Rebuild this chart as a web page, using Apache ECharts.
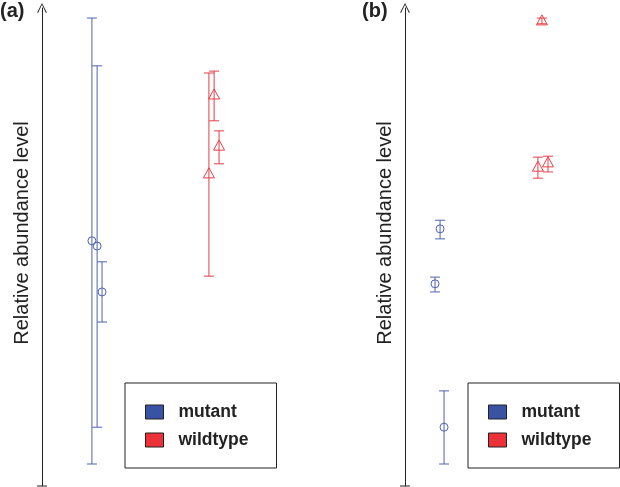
<!DOCTYPE html>
<html><head><meta charset="utf-8">
<script src="https://cdn.jsdelivr.net/npm/echarts@6/dist/echarts.min.js"></script>
<style>html,body{margin:0;padding:0;background:#fff}#c{width:620px;height:487px}</style>
</head><body><div id="c"></div>
<script>
// Panel (a)
const aMutX = [1.92, 2.12, 2.31];
const aMutY = [51.3, 50.2, 40.6];
const aMutLo = [4.6, 12.3, 34.3];
const aMutHi = [97.9, 87.9, 46.9];
const aWildX = [6.42, 6.62, 6.81];
const aWildY = [65.3, 81.8, 71.1];
const aWildLo = [43.9, 76.4, 67.4];
const aWildHi = [86.4, 86.8, 74.3];
// Panel (b)
const bMutX = [1.67, 1.43, 1.86];
const bMutY = [53.8, 42.3, 12.3];
const bMutLo = [51.7, 40.6, 4.6];
const bMutHi = [55.6, 43.7, 19.9];
const bWildX = [6.52, 6.33, 6.81];
const bWildY = [97.3, 66.7, 67.6];
const bWildLo = [96.7, 64.4, 65.7];
const bWildHi = [97.9, 68.8, 69.0];

const groups = ['mutant', 'wildtype'];
const panelLabels = ['a', 'b'];
const yName = 'Relative abundance level';

const BLUE = '#4f63b1', RED = '#e63f47';
const BLUE_F = '#3953a4', RED_F = '#ec3238';
const FONT = '"Liberation Sans", Arial, Helvetica, sans-serif';

function rows(xs, ys, lo, hi) { return xs.map((x, i) => [x, ys[i], lo[i], hi[i]]); }

function renderer(shape, color) {
  return function (params, api) {
    const x = api.value(0);
    const p = api.coord([x, api.value(1)]);
    const pl = api.coord([x, api.value(2)]);
    const ph = api.coord([x, api.value(3)]);
    const cap = 5;
    const st = { stroke: color, lineWidth: 1, fill: null };
    const kids = [
      { type: 'line', shape: { x1: pl[0], y1: pl[1], x2: ph[0], y2: ph[1] }, style: st },
      { type: 'line', shape: { x1: pl[0] - cap, y1: pl[1], x2: pl[0] + cap, y2: pl[1] }, style: st },
      { type: 'line', shape: { x1: ph[0] - cap, y1: ph[1], x2: ph[0] + cap, y2: ph[1] }, style: st }
    ];
    if (shape === 'circle') {
      kids.push({ type: 'circle', shape: { cx: p[0], cy: p[1], r: 4 }, style: st });
    } else {
      kids.push({ type: 'polygon', shape: { points: [[p[0], p[1] - 6], [p[0] - 5.5, p[1] + 4], [p[0] + 5.5, p[1] + 4]] }, style: st });
    }
    return { type: 'group', children: kids };
  };
}

const arrowPath = 'path://M0,10 L5,0 L10,10 L9.1,10.4 L5,1.9 L0.9,10.4 Z';
const tickPath = 'path://M0,0 L10,0 L10,1 L0,1 Z';

function yAxis(gi) {
  return {
    gridIndex: gi, type: 'value', min: 0, max: 100,
    axisLine: { show: true, symbol: [tickPath, arrowPath], symbolSize: [10, 10], lineStyle: { color: '#222', width: 1 } },
    axisTick: { show: false }, axisLabel: { show: false }, splitLine: { show: false },
    name: yName, nameLocation: 'middle', nameRotate: 90, nameGap: 10,
    nameTextStyle: { fontSize: 20, color: '#222', fontFamily: FONT, padding: [0, 0, 0, 28] }
  };
}

function legend(left) {
  return {
    orient: 'vertical', left: left, top: 383,
    borderColor: '#222', borderWidth: 1, padding: [20, 28, 19, 20],
    itemWidth: 18, itemHeight: 14, itemGap: 10,
    textStyle: { fontSize: 17.5, fontWeight: 'bold', color: '#222', fontFamily: FONT, padding: [0, 0, 0, 10] },
    data: [
      { name: groups[0], icon: 'rect', itemStyle: { color: BLUE_F, borderColor: '#222', borderWidth: 1 } },
      { name: groups[1], icon: 'rect', itemStyle: { color: RED_F, borderColor: '#222', borderWidth: 1 } }
    ]
  };
}

function panelTitle(lbl, left) {
  return {
    text: '{p|(}{b|' + lbl + '}{p|)}', left: left, top: 1, padding: 0,
    textStyle: { rich: {
      p: { fontSize: 20, color: '#222', fontFamily: FONT },
      b: { fontSize: 20, fontWeight: 'bold', color: '#222', fontFamily: FONT }
    } }
  };
}

const chart = echarts.init(document.getElementById('c'), null, { renderer: 'canvas' });
chart.setOption({
  animation: false,
  backgroundColor: '#fff',
  title: [panelTitle(panelLabels[0], 0), panelTitle(panelLabels[1], 362)],
  grid: [
    { left: 42, top: 8, width: 260, height: 478 },
    { left: 405, top: 8, width: 210, height: 478 }
  ],
  xAxis: [
    { gridIndex: 0, type: 'value', min: 0, max: 10, show: false },
    { gridIndex: 1, type: 'value', min: 0, max: 10, show: false }
  ],
  yAxis: [yAxis(0), yAxis(1)],
  legend: [legend(125), legend(468)],
  series: [
    { type: 'custom', name: groups[0], xAxisIndex: 0, yAxisIndex: 0, itemStyle: { color: BLUE_F }, renderItem: renderer('circle', BLUE), data: rows(aMutX, aMutY, aMutLo, aMutHi) },
    { type: 'custom', name: groups[1], xAxisIndex: 0, yAxisIndex: 0, itemStyle: { color: RED_F }, renderItem: renderer('triangle', RED), data: rows(aWildX, aWildY, aWildLo, aWildHi) },
    { type: 'custom', name: groups[0], xAxisIndex: 1, yAxisIndex: 1, itemStyle: { color: BLUE_F }, renderItem: renderer('circle', BLUE), data: rows(bMutX, bMutY, bMutLo, bMutHi) },
    { type: 'custom', name: groups[1], xAxisIndex: 1, yAxisIndex: 1, itemStyle: { color: RED_F }, renderItem: renderer('triangle', RED), data: rows(bWildX, bWildY, bWildLo, bWildHi) }
  ]
});
</script></body></html>
